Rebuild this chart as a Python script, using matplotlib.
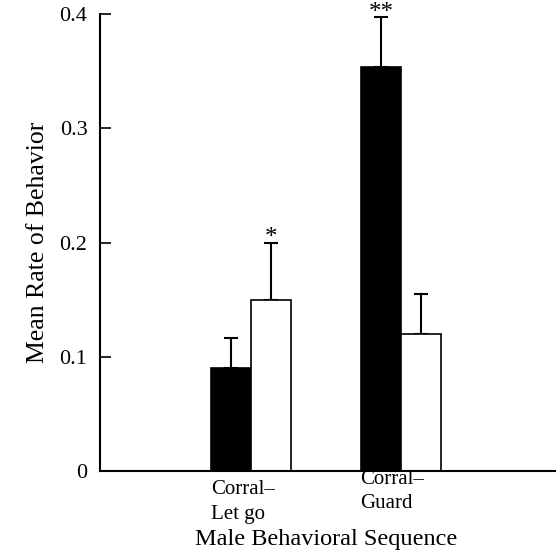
import matplotlib
matplotlib.use("Agg")
import matplotlib.pyplot as plt
import numpy as np

plt.rcParams["font.family"] = ["Liberation Serif", "DejaVu Serif"]

categories = ["Corral\u2013\nLet go", "Corral\u2013\nGuard"]
black_means = [0.090, 0.354]
black_err = [0.026, 0.043]
white_means = [0.150, 0.120]
white_err = [0.050, 0.035]
black_marks = ["", "**"]
white_marks = ["*", ""]
yticks = [0, 0.1, 0.2, 0.3, 0.4]
yticklabels = ["0", "0.1", "0.2", "0.3", "0.4"]

fig = plt.figure(figsize=(5.56, 5.52), dpi=100)
ax = fig.add_axes([100 / 556, 1 - 471 / 552, 456 / 556, 457 / 552])

x = np.array([1.0, 2.0])
w = 0.267

ax.bar(x - w / 2, black_means, w, color="black", edgecolor="black", linewidth=1.2, zorder=2)
ax.bar(x + w / 2, white_means, w, color="white", edgecolor="black", linewidth=1.2, zorder=2)
ax.errorbar(x - w / 2, black_means, yerr=[np.zeros(2), black_err], fmt="none",
            ecolor="black", elinewidth=1.5, capsize=5, capthick=1.5, zorder=1)
ax.errorbar(x + w / 2, white_means, yerr=[np.zeros(2), white_err], fmt="none",
            ecolor="black", elinewidth=1.5, capsize=5, capthick=1.5, zorder=1)

# significance marks above the error bars
for xi, m, e, s in zip(x - w / 2, black_means, black_err, black_marks):
    if s:
        ax.text(xi, m + e - 0.006, s, ha="center", va="bottom", fontsize=18, clip_on=False)
for xi, m, e, s in zip(x + w / 2, white_means, white_err, white_marks):
    if s:
        ax.text(xi, m + e - 0.006, s, ha="center", va="bottom", fontsize=18, clip_on=False)

ax.set_xlim(-0.007, 3.033)
ax.set_ylim(0, 0.4)
ax.set_yticks(yticks)
ax.set_yticklabels(yticklabels, fontsize=16)
ax.tick_params(axis="y", direction="in", length=8, width=1.2, pad=9)
ax.set_xticks([])
for side in ["top", "right"]:
    ax.spines[side].set_visible(False)
ax.spines["left"].set_linewidth(1.5)
ax.spines["bottom"].set_linewidth(1.5)

# category labels, the second one sits a little higher as in the original
ax.text(x[0] - w, -0.008, categories[0], ha="left", va="top", fontsize=15, linespacing=1.45)
ax.text(x[1] - w - 0.007, 0.001, categories[1], ha="left", va="top", fontsize=15, linespacing=1.4)

ax.set_ylabel("Mean Rate of Behavior", fontsize=18.5, labelpad=8)
fig.text(326 / 556, 1 - 540 / 552, "Male Behavioral Sequence", ha="center", va="center", fontsize=17.5)

fig.savefig("out.png", dpi=100)
